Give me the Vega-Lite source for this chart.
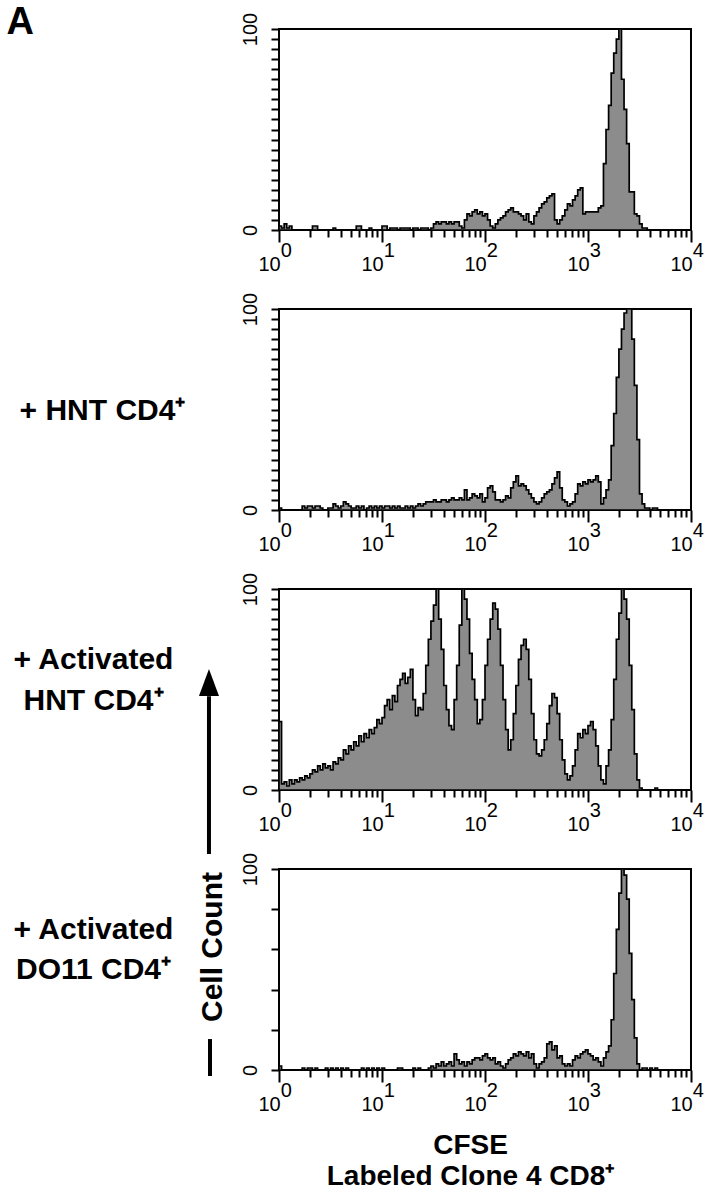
{
  "$schema": "https://vega.github.io/schema/vega-lite/v6.json",
  "background": "white",
  "padding": {"left": 5, "right": 5, "top": 2, "bottom": 5},
  "spacing": 79,
  "bounds": "flush",
  "config": {
    "view": {"stroke": "black", "strokeWidth": 2},
    "font": "Liberation Sans",
    "axis": {"domain": false, "grid": false, "tickColor": "black", "tickWidth": 2, "labelColor": "black", "labelFont": "Liberation Sans", "labelFontSize": 20, "labelOverlap": false, "labelFlush": false, "labelBound": false, "titleColor": "black", "titleFont": "Liberation Sans", "titleFontWeight": "bold", "titleAngle": 0},
    "axisX": {"labelAlign": "left", "labelOffset": -21, "labelBaseline": "top", "labelLineHeight": 14, "labelPadding": -2},
    "axisY": {"tickSize": 8, "labelAngle": -90, "labelAlign": "center", "labelBaseline": "alphabetic", "labelPadding": 15}
  },
  "datasets": {
    "hist": [
      {"x":1,"a":2,"b":1,"c":34,"d":2},{"x":1.059,"a":1,"b":0,"c":3,"d":0},{"x":1.122,"a":3,"b":0,"c":4,"d":0},{"x":1.189,"a":1,"b":0,"c":2,"d":0},{"x":1.259,"a":2,"b":0,"c":5,"d":0},{"x":1.334,"a":0,"b":0,"c":3,"d":0},{"x":1.413,"a":0,"b":0,"c":5,"d":0},{"x":1.496,"a":0,"b":0,"c":4,"d":0},{"x":1.585,"a":0,"b":0,"c":6,"d":0},{"x":1.679,"a":0,"b":2,"c":5,"d":1},
      {"x":1.778,"a":0,"b":1,"c":7,"d":0},{"x":1.884,"a":0,"b":2,"c":6,"d":1},{"x":1.995,"a":0,"b":2,"c":8,"d":1},{"x":2.113,"a":2,"b":1,"c":10,"d":0},{"x":2.239,"a":2,"b":2,"c":9,"d":1},{"x":2.371,"a":0,"b":2,"c":12,"d":0},{"x":2.512,"a":0,"b":1,"c":10,"d":0},{"x":2.661,"a":0,"b":0,"c":13,"d":0},{"x":2.818,"a":0,"b":0,"c":11,"d":1},{"x":2.985,"a":0,"b":1,"c":12,"d":0},
      {"x":3.162,"a":0,"b":1,"c":10,"d":1},{"x":3.35,"a":1,"b":3,"c":14,"d":0},{"x":3.548,"a":0,"b":2,"c":13,"d":1},{"x":3.758,"a":0,"b":1,"c":16,"d":0},{"x":3.981,"a":0,"b":2,"c":15,"d":1},{"x":4.217,"a":0,"b":4,"c":20,"d":0},{"x":4.467,"a":0,"b":3,"c":18,"d":1},{"x":4.732,"a":0,"b":2,"c":22,"d":0},{"x":5.012,"a":0,"b":1,"c":20,"d":0},{"x":5.309,"a":0,"b":1,"c":24,"d":0},
      {"x":5.623,"a":2,"b":2,"c":22,"d":0},{"x":5.957,"a":2,"b":1,"c":27,"d":0},{"x":6.31,"a":0,"b":2,"c":24,"d":1},{"x":6.683,"a":0,"b":0,"c":28,"d":0},{"x":7.079,"a":0,"b":1,"c":26,"d":1},{"x":7.499,"a":1,"b":2,"c":30,"d":0},{"x":7.943,"a":0,"b":1,"c":28,"d":1},{"x":8.414,"a":0,"b":2,"c":31,"d":0},{"x":8.913,"a":0,"b":1,"c":35,"d":1},{"x":9.441,"a":0,"b":2,"c":33,"d":0},
      {"x":10,"a":2,"b":1,"c":36,"d":1},{"x":10.59,"a":2,"b":2,"c":42,"d":0},{"x":11.22,"a":0,"b":2,"c":45,"d":0},{"x":11.89,"a":1,"b":1,"c":40,"d":0},{"x":12.59,"a":1,"b":2,"c":47,"d":0},{"x":13.34,"a":1,"b":1,"c":44,"d":0},{"x":14.13,"a":0,"b":2,"c":52,"d":1},{"x":14.96,"a":1,"b":1,"c":55,"d":1},{"x":15.85,"a":1,"b":1,"c":58,"d":0},{"x":16.79,"a":1,"b":2,"c":53,"d":0},
      {"x":17.78,"a":1,"b":1,"c":56,"d":0},{"x":18.84,"a":0,"b":2,"c":60,"d":0},{"x":19.95,"a":1,"b":1,"c":45,"d":1},{"x":21.13,"a":1,"b":2,"c":37,"d":0},{"x":22.39,"a":0,"b":3,"c":41,"d":1},{"x":23.71,"a":1,"b":2,"c":40,"d":0},{"x":25.12,"a":1,"b":3,"c":48,"d":0},{"x":26.61,"a":1,"b":4,"c":62,"d":0},{"x":28.18,"a":0,"b":4,"c":75,"d":1},{"x":29.85,"a":1,"b":4,"c":84,"d":2},
      {"x":31.62,"a":3,"b":5,"c":92,"d":1},{"x":33.5,"a":4,"b":4,"c":100,"d":3},{"x":35.48,"a":3,"b":4,"c":85,"d":2},{"x":37.58,"a":4,"b":5,"c":70,"d":4},{"x":39.81,"a":4,"b":5,"c":52,"d":2},{"x":42.17,"a":3,"b":4,"c":40,"d":3},{"x":44.67,"a":4,"b":5,"c":32,"d":4},{"x":47.32,"a":3,"b":6,"c":30,"d":2},{"x":50.12,"a":4,"b":5,"c":45,"d":8},{"x":53.09,"a":4,"b":5,"c":62,"d":5},
      {"x":56.23,"a":2,"b":6,"c":82,"d":3},{"x":59.57,"a":1,"b":5,"c":100,"d":4},{"x":63.1,"a":5,"b":10,"c":95,"d":2},{"x":66.83,"a":8,"b":5,"c":85,"d":4},{"x":70.79,"a":7,"b":6,"c":68,"d":3},{"x":74.99,"a":9,"b":8,"c":55,"d":5},{"x":79.43,"a":10,"b":7,"c":45,"d":6},{"x":84.14,"a":8,"b":6,"c":33,"d":6},{"x":89.13,"a":9,"b":8,"c":35,"d":5},{"x":94.41,"a":7,"b":4,"c":45,"d":7},
      {"x":100,"a":8,"b":6,"c":62,"d":8},{"x":105.9,"a":5,"b":11,"c":75,"d":6},{"x":112.2,"a":2,"b":12,"c":85,"d":5},{"x":118.9,"a":1,"b":9,"c":93,"d":6},{"x":125.9,"a":3,"b":5,"c":90,"d":3},{"x":133.4,"a":5,"b":5,"c":80,"d":4},{"x":141.3,"a":6,"b":4,"c":62,"d":2},{"x":149.6,"a":7,"b":5,"c":45,"d":1},{"x":158.5,"a":9,"b":7,"c":30,"d":3},{"x":167.9,"a":10,"b":6,"c":20,"d":5},
      {"x":177.8,"a":11,"b":11,"c":25,"d":6},{"x":188.4,"a":9,"b":14,"c":38,"d":8},{"x":199.5,"a":9,"b":17,"c":52,"d":7},{"x":211.3,"a":8,"b":12,"c":65,"d":9},{"x":223.9,"a":7,"b":13,"c":72,"d":8},{"x":237.1,"a":5,"b":12,"c":75,"d":7},{"x":251.2,"a":8,"b":10,"c":70,"d":9},{"x":266.1,"a":4,"b":8,"c":55,"d":6},{"x":281.8,"a":3,"b":6,"c":38,"d":8},{"x":298.5,"a":7,"b":4,"c":25,"d":3},
      {"x":316.2,"a":9,"b":3,"c":18,"d":1},{"x":335,"a":11,"b":4,"c":17,"d":3},{"x":354.8,"a":13,"b":6,"c":20,"d":4},{"x":375.8,"a":14,"b":8,"c":25,"d":6},{"x":398.1,"a":16,"b":9,"c":33,"d":13},{"x":421.7,"a":17,"b":10,"c":42,"d":14},{"x":446.7,"a":18,"b":13,"c":48,"d":10},{"x":473.2,"a":5,"b":16,"c":46,"d":12},{"x":501.2,"a":3,"b":19,"c":38,"d":6},{"x":530.9,"a":5,"b":11,"c":25,"d":7},
      {"x":562.3,"a":7,"b":5,"c":15,"d":3},{"x":595.7,"a":10,"b":4,"c":8,"d":2},{"x":631,"a":13,"b":2,"c":5,"d":3},{"x":668.3,"a":12,"b":3,"c":7,"d":2},{"x":707.9,"a":15,"b":4,"c":12,"d":5},{"x":749.9,"a":17,"b":8,"c":20,"d":7},{"x":794.3,"a":20,"b":13,"c":28,"d":6},{"x":841.4,"a":21,"b":12,"c":26,"d":8},{"x":891.3,"a":8,"b":14,"c":30,"d":9},{"x":944.1,"a":9,"b":13,"c":28,"d":10},
      {"x":1000,"a":9,"b":15,"c":32,"d":8},{"x":1059,"a":9,"b":14,"c":34,"d":7},{"x":1122,"a":9,"b":15,"c":30,"d":5},{"x":1189,"a":9,"b":17,"c":22,"d":6},{"x":1259,"a":11,"b":14,"c":12,"d":4},{"x":1334,"a":12,"b":3,"c":5,"d":2},{"x":1413,"a":33,"b":6,"c":3,"d":6},{"x":1496,"a":50,"b":10,"c":12,"d":9},{"x":1585,"a":62,"b":15,"c":20,"d":12},{"x":1679,"a":78,"b":32,"c":35,"d":25},
      {"x":1778,"a":88,"b":48,"c":55,"d":48},{"x":1884,"a":95,"b":66,"c":75,"d":70},{"x":1995,"a":100,"b":80,"c":88,"d":88},{"x":2113,"a":75,"b":90,"c":100,"d":100},{"x":2239,"a":60,"b":98,"c":95,"d":97},{"x":2371,"a":43,"b":100,"c":85,"d":85},{"x":2512,"a":19,"b":100,"c":62,"d":58},{"x":2661,"a":19,"b":85,"c":40,"d":35},{"x":2818,"a":8,"b":62,"c":18,"d":16},{"x":2985,"a":7,"b":35,"c":5,"d":3},
      {"x":3162,"a":3,"b":8,"c":1,"d":0},{"x":3350,"a":1,"b":3,"c":0,"d":1},{"x":3548,"a":1,"b":1,"c":0,"d":1},{"x":3758,"a":0,"b":1,"c":0,"d":0},{"x":3981,"a":0,"b":0,"c":0,"d":1},{"x":4217,"a":0,"b":1,"c":0,"d":0},{"x":4467,"a":0,"b":1,"c":1,"d":1},{"x":4732,"a":0,"b":0,"c":0,"d":0},{"x":10000,"a":0,"b":0,"c":0,"d":0}
    ]
  },
  "vconcat": [
    {
      "width": 412, "height": 201,
      "data": {"name": "hist"},
      "mark": {"type": "area", "interpolate": "step-after", "fill": "#8c8c8c", "stroke": "black", "strokeWidth": 1.7},
      "encoding": {
        "x": {"field": "x", "type": "quantitative", "scale": {"type": "log", "domain": [1, 10000], "nice": false},
          "axis": {"title": null, "values": [1,2,3,4,5,6,7,8,9,10,20,30,40,50,60,70,80,90,100,200,300,400,500,600,700,800,900,1000,2000,3000,4000,5000,6000,7000,8000,9000,10000],
            "tickSize": {"condition": {"test": "indexof([1,10,100,1000,10000], datum.value) >= 0", "value": 12}, "value": 7},
            "labelExpr": "datum.value === 1 ? ['\u200b\u00a0\u00a0\u00a0\u00a00', '10'] : datum.value === 10 ? ['\u200b\u00a0\u00a0\u00a0\u00a01', '10'] : datum.value === 100 ? ['\u200b\u00a0\u00a0\u00a0\u00a02', '10'] : datum.value === 1000 ? ['\u200b\u00a0\u00a0\u00a0\u00a03', '10'] : datum.value === 10000 ? ['\u200b\u00a0\u00a0\u00a0\u00a04', '10'] : ''"}},
        "y": {"field": "a", "type": "quantitative", "scale": {"domain": [0, 100], "nice": false},
          "axis": {"values": [0,5,10,15,20,25,30,35,40,45,50,55,60,65,70,75,80,85,90,95,100],
            "labelExpr": "datum.value === 0 ? '0' : datum.value === 100 ? '100' : ''",
            "title": "A", "titleFontSize": 38, "titleAngle": 0, "titleAlign": "left", "titleBaseline": "top", "titleX": -273, "titleY": -26}}
      }
    },
    {
      "width": 412, "height": 201,
      "data": {"name": "hist"},
      "mark": {"type": "area", "interpolate": "step-after", "fill": "#8c8c8c", "stroke": "black", "strokeWidth": 1.7},
      "encoding": {
        "x": {"field": "x", "type": "quantitative", "scale": {"type": "log", "domain": [1, 10000], "nice": false},
          "axis": {"title": null, "values": [1,2,3,4,5,6,7,8,9,10,20,30,40,50,60,70,80,90,100,200,300,400,500,600,700,800,900,1000,2000,3000,4000,5000,6000,7000,8000,9000,10000],
            "tickSize": {"condition": {"test": "indexof([1,10,100,1000,10000], datum.value) >= 0", "value": 12}, "value": 7},
            "labelExpr": "datum.value === 1 ? ['\u200b\u00a0\u00a0\u00a0\u00a00', '10'] : datum.value === 10 ? ['\u200b\u00a0\u00a0\u00a0\u00a01', '10'] : datum.value === 100 ? ['\u200b\u00a0\u00a0\u00a0\u00a02', '10'] : datum.value === 1000 ? ['\u200b\u00a0\u00a0\u00a0\u00a03', '10'] : datum.value === 10000 ? ['\u200b\u00a0\u00a0\u00a0\u00a04', '10'] : ''"}},
        "y": {"field": "b", "type": "quantitative", "scale": {"domain": [0, 100], "nice": false},
          "axis": {"values": [0,5,10,15,20,25,30,35,40,45,50,55,60,65,70,75,80,85,90,95,100],
            "labelExpr": "datum.value === 0 ? '0' : datum.value === 100 ? '100' : ''",
            "title": "+ HNT CD4\u207a", "titleFontSize": 30, "titleAngle": 0, "titleAlign": "center", "titleBaseline": "alphabetic", "titleX": -177, "titleY": 110}}
      }
    },
    {
      "width": 412, "height": 201,
      "data": {"name": "hist"},
      "mark": {"type": "area", "interpolate": "step-after", "fill": "#8c8c8c", "stroke": "black", "strokeWidth": 1.7},
      "encoding": {
        "x": {"field": "x", "type": "quantitative", "scale": {"type": "log", "domain": [1, 10000], "nice": false},
          "axis": {"title": null, "values": [1,2,3,4,5,6,7,8,9,10,20,30,40,50,60,70,80,90,100,200,300,400,500,600,700,800,900,1000,2000,3000,4000,5000,6000,7000,8000,9000,10000],
            "tickSize": {"condition": {"test": "indexof([1,10,100,1000,10000], datum.value) >= 0", "value": 12}, "value": 7},
            "labelExpr": "datum.value === 1 ? ['\u200b\u00a0\u00a0\u00a0\u00a00', '10'] : datum.value === 10 ? ['\u200b\u00a0\u00a0\u00a0\u00a01', '10'] : datum.value === 100 ? ['\u200b\u00a0\u00a0\u00a0\u00a02', '10'] : datum.value === 1000 ? ['\u200b\u00a0\u00a0\u00a0\u00a03', '10'] : datum.value === 10000 ? ['\u200b\u00a0\u00a0\u00a0\u00a04', '10'] : ''"}},
        "y": {"field": "c", "type": "quantitative", "scale": {"domain": [0, 100], "nice": false},
          "axis": {"values": [0,5,10,15,20,25,30,35,40,45,50,55,60,65,70,75,80,85,90,95,100],
            "labelExpr": "datum.value === 0 ? '0' : datum.value === 100 ? '100' : ''",
            "title": ["+ Activated", "HNT CD4\u207a"], "titleFontSize": 30, "titleLineHeight": 41, "titleAngle": 0, "titleAlign": "center", "titleBaseline": "alphabetic", "titleX": -186, "titleY": 79}}
      }
    },
    {
      "width": 412, "height": 201,
      "layer": [
        {
          "data": {"name": "hist"},
          "mark": {"type": "area", "interpolate": "step-after", "fill": "#8c8c8c", "stroke": "black", "strokeWidth": 1.7},
          "encoding": {
            "x": {"field": "x", "type": "quantitative", "scale": {"type": "log", "domain": [1, 10000], "nice": false},
              "axis": {"values": [1,2,3,4,5,6,7,8,9,10,20,30,40,50,60,70,80,90,100,200,300,400,500,600,700,800,900,1000,2000,3000,4000,5000,6000,7000,8000,9000,10000],
                "tickSize": {"condition": {"test": "indexof([1,10,100,1000,10000], datum.value) >= 0", "value": 12}, "value": 7},
                "labelExpr": "datum.value === 1 ? ['\u200b\u00a0\u00a0\u00a0\u00a00', '10'] : datum.value === 10 ? ['\u200b\u00a0\u00a0\u00a0\u00a01', '10'] : datum.value === 100 ? ['\u200b\u00a0\u00a0\u00a0\u00a02', '10'] : datum.value === 1000 ? ['\u200b\u00a0\u00a0\u00a0\u00a03', '10'] : datum.value === 10000 ? ['\u200b\u00a0\u00a0\u00a0\u00a04', '10'] : ''",
                "title": ["CFSE", "Labeled Clone 4 CD8\u207a"], "titleFontSize": 28, "titleLineHeight": 31, "titleAngle": 0, "titleAlign": "center", "titleBaseline": "alphabetic", "titleX": 191, "titleY": 83}},
            "y": {"field": "d", "type": "quantitative", "scale": {"domain": [0, 100], "nice": false},
              "axis": {"values": [0,5,10,15,20,25,30,35,40,45,50,55,60,65,70,75,80,85,90,95,100],
                "labelExpr": "datum.value === 0 ? '0' : datum.value === 100 ? '100' : ''",
                "title": ["+ Activated", "DO11 CD4\u207a"], "titleFontSize": 30, "titleLineHeight": 40, "titleAngle": 0, "titleAlign": "center", "titleBaseline": "alphabetic", "titleX": -186, "titleY": 69}}
          }
        },
        {
          "data": {"values": [{"x": 0.209, "d": 107.5, "hi": 186}, {"x": 0.2138, "d": -3, "hi": 15.4}]},
          "mark": {"type": "rule", "color": "black", "strokeWidth": 4},
          "encoding": {
            "x": {"field": "x", "type": "quantitative"},
            "y": {"field": "d", "type": "quantitative"},
            "y2": {"field": "hi"}
          }
        },
        {
          "data": {"values": [{"x": 0.209, "d": 192.8}]},
          "mark": {"type": "point", "shape": "M0,-1.35L1,1.35L-1,1.35Z", "filled": true, "color": "black", "opacity": 1, "size": 400},
          "encoding": {
            "x": {"field": "x", "type": "quantitative"},
            "y": {"field": "d", "type": "quantitative"}
          }
        },
        {
          "data": {"values": [{"x": 0.2797, "d": 61.2, "label": "Cell Count"}]},
          "mark": {"type": "text", "angle": 270, "fontSize": 30, "fontWeight": "bold", "font": "Liberation Sans", "align": "center", "baseline": "alphabetic", "color": "black"},
          "encoding": {
            "x": {"field": "x", "type": "quantitative"},
            "y": {"field": "d", "type": "quantitative"},
            "text": {"field": "label"}
          }
        }
      ]
    }
  ]
}
